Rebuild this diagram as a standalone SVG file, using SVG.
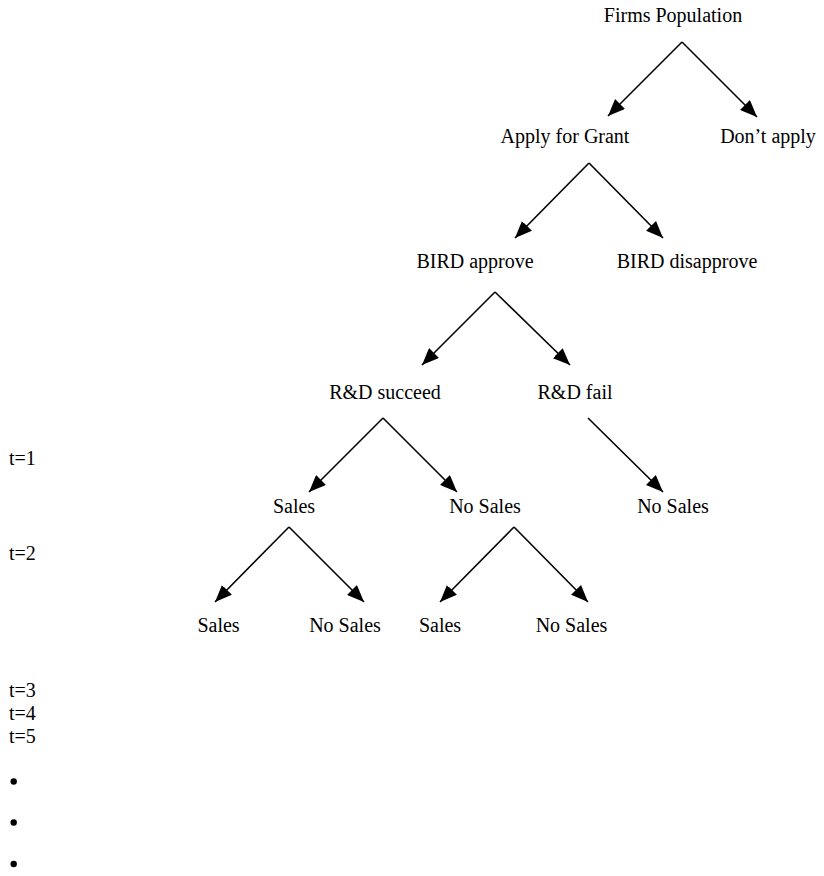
<svg xmlns="http://www.w3.org/2000/svg" width="824" height="876" viewBox="0 0 824 876">
<style>
text{font-family:"Liberation Serif","Times New Roman",serif;font-size:20px;fill:#000}
.n text{text-anchor:middle}
.c line{stroke:#000;stroke-width:1.6;marker-end:url(#ah)}
</style>
<defs>
<marker id="ah" markerUnits="userSpaceOnUse" markerWidth="17" markerHeight="14" refX="17" refY="7" orient="auto">
<path d="M0,0 L17,7 L0,14 z" fill="#000"/>
</marker>
</defs>
<rect width="824" height="876" fill="#fff"/>
<g class="n">
<g id="firms"><text x="673" y="22">Firms Population</text></g>
<g id="apply"><text x="565" y="143">Apply for Grant</text></g>
<g id="dontapply"><text x="768" y="143">Don’t apply</text></g>
<g id="approve"><text x="475" y="268">BIRD approve</text></g>
<g id="disapprove"><text x="687" y="268">BIRD disapprove</text></g>
<g id="succeed"><text x="385" y="399">R&amp;D succeed</text></g>
<g id="fail"><text x="575" y="399">R&amp;D fail</text></g>
<g id="sales1"><text x="294" y="513">Sales</text></g>
<g id="nosales1"><text x="485" y="513">No Sales</text></g>
<g id="nosales2"><text x="673" y="513">No Sales</text></g>
<g id="sales2"><text x="218.5" y="632">Sales</text></g>
<g id="nosales3"><text x="345" y="632">No Sales</text></g>
<g id="sales3"><text x="440" y="632">Sales</text></g>
<g id="nosales4"><text x="571.5" y="632">No Sales</text></g>
</g>
<g id="connectors" class="c">
<line x1="682" y1="42" x2="608" y2="116"/>
<line x1="682" y1="42" x2="757" y2="117"/>
<line x1="589" y1="163" x2="515" y2="238"/>
<line x1="589" y1="163" x2="663" y2="238"/>
<line x1="495" y1="292" x2="422" y2="365"/>
<line x1="495" y1="292" x2="570" y2="365"/>
<line x1="383" y1="418" x2="309" y2="492"/>
<line x1="383" y1="418" x2="457" y2="492"/>
<line x1="588" y1="418" x2="663" y2="492"/>
<line x1="289" y1="527" x2="215" y2="602"/>
<line x1="289" y1="527" x2="364" y2="602"/>
<line x1="514" y1="527" x2="440" y2="602"/>
<line x1="514" y1="527" x2="588" y2="602"/>
</g>
<g id="timeline">
<text x="9" y="465">t=1</text>
<text x="9" y="560">t=2</text>
<text x="9" y="697">t=3</text>
<text x="9" y="720">t=4</text>
<text x="9" y="743">t=5</text>
<circle cx="13.7" cy="781.5" r="3.2" fill="#000"/>
<circle cx="13.7" cy="822.5" r="3.2" fill="#000"/>
<circle cx="13.7" cy="864" r="3.2" fill="#000"/>
</g>
</svg>
